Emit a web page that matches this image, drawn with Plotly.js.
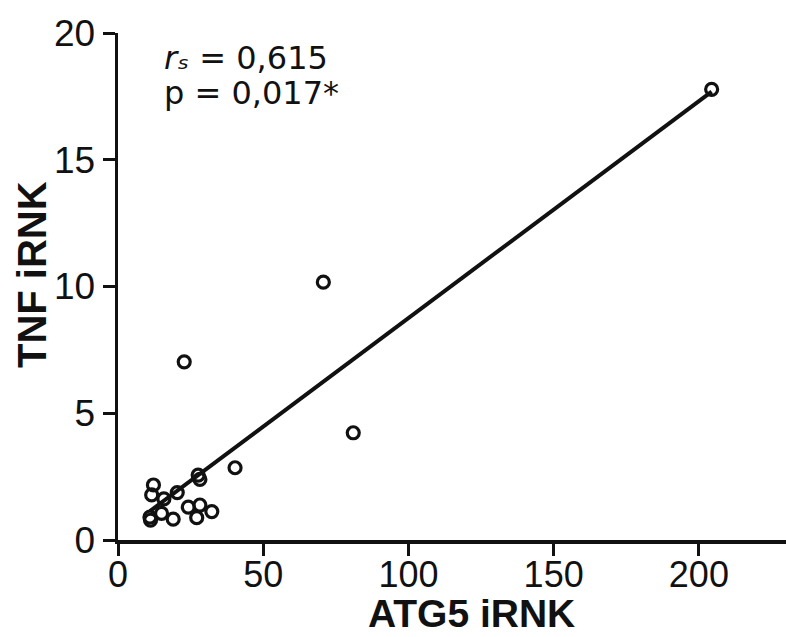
<!DOCTYPE html>
<html>
<head>
<meta charset="utf-8">
<script src="https://cdn.plot.ly/plotly-3.0.1.min.js"></script>
<style>html,body{margin:0;padding:0;background:#fff;}#chart{width:786px;height:637px;}</style>
</head>
<body>
<div id="chart"></div>
<script>
const atg5 = [204.4, 70.7, 81.0, 22.8, 40.3, 27.6, 28.2, 12.2, 11.6, 15.8, 20.4, 24.2, 28.2, 32.3, 15.0, 11.0, 11.2, 19.0, 27.1];
const tnf  = [17.78, 10.17, 4.23, 7.03, 2.85, 2.56, 2.39, 2.17, 1.78, 1.62, 1.87, 1.30, 1.38, 1.12, 1.05, 0.90, 0.78, 0.82, 0.88];
const fitX = [11.0, 204.4];
const fitY = [1.14, 17.69];
const xTicks = [0, 50, 100, 150, 200];
const yTicks = [0, 5, 10, 15, 20];
const statLines = ['<i>r\u209B</i> = 0,615', 'p = 0,017*'];
const xTitle = 'ATG5 iRNK';
const yTitle = 'TNF iRNK';

const FONT = 'Liberation Sans, Arial, Helvetica, sans-serif';
const STATFONT = 'DejaVu Sans, Verdana, sans-serif';

// plot area geometry (px) used to place the annotations in paper coords
const L = 118, T = 33, B = 97, W = 786 - L, H = 637 - T - B;
const px2x = p => (p - L) / W;
const px2y = p => (T + H - p) / H;

const traces = [
  {x: fitX, y: fitY, mode: 'lines', type: 'scatter',
   line: {color: '#111', width: 4}, hoverinfo: 'skip', showlegend: false},
  {x: atg5, y: tnf, mode: 'markers', type: 'scatter',
   marker: {symbol: 'circle', size: 12, color: 'rgba(0,0,0,0)', line: {width: 3.2, color: '#111'}},
   showlegend: false, cliponaxis: false}
];

const layout = {
  width: 786, height: 637,
  margin: {l: L, r: 0, t: T, b: B, pad: 0},
  paper_bgcolor: '#fff', plot_bgcolor: '#fff',
  font: {family: FONT, color: '#111'},
  showlegend: false,
  xaxis: {
    range: [0, 230], tickvals: xTicks, ticktext: xTicks.map(String),
    showgrid: false, zeroline: false, showline: true, linecolor: '#111', linewidth: 3.5,
    ticks: 'outside', ticklen: 12, tickwidth: 3, tickcolor: '#111',
    ticklabelstandoff: -12,
    tickfont: {size: 36, family: FONT, color: '#111'}
  },
  yaxis: {
    range: [0, 20], tickvals: yTicks, ticktext: yTicks.map(String),
    showgrid: false, zeroline: false, showline: true, linecolor: '#111', linewidth: 3.5,
    ticks: 'outside', ticklen: 12, tickwidth: 3, tickcolor: '#111',
    tickfont: {size: 37, family: FONT, color: '#111'}
  },
  annotations: [
    {xref: 'paper', yref: 'paper', x: px2x(471), y: px2y(637), xanchor: 'center', yanchor: 'bottom',
     text: '<b>' + xTitle + '</b>', showarrow: false, font: {size: 39, family: FONT, color: '#111'}},
    {xref: 'paper', yref: 'paper', x: px2x(32), y: px2y(275), xanchor: 'center', yanchor: 'middle',
     textangle: -90, text: '<b>' + yTitle + '</b>', showarrow: false, font: {size: 40, family: FONT, color: '#111'}},
    {xref: 'paper', yref: 'paper', x: px2x(162), y: px2y(37), xanchor: 'left', yanchor: 'top',
     text: statLines[0], showarrow: false, font: {size: 32, family: STATFONT, color: '#111'}},
    {xref: 'paper', yref: 'paper', x: px2x(162), y: px2y(72), xanchor: 'left', yanchor: 'top',
     text: statLines[1], showarrow: false, font: {size: 32, family: STATFONT, color: '#111'}}
  ]
};

Plotly.newPlot('chart', traces, layout, {displayModeBar: false, staticPlot: true});
</script>
</body>
</html>
